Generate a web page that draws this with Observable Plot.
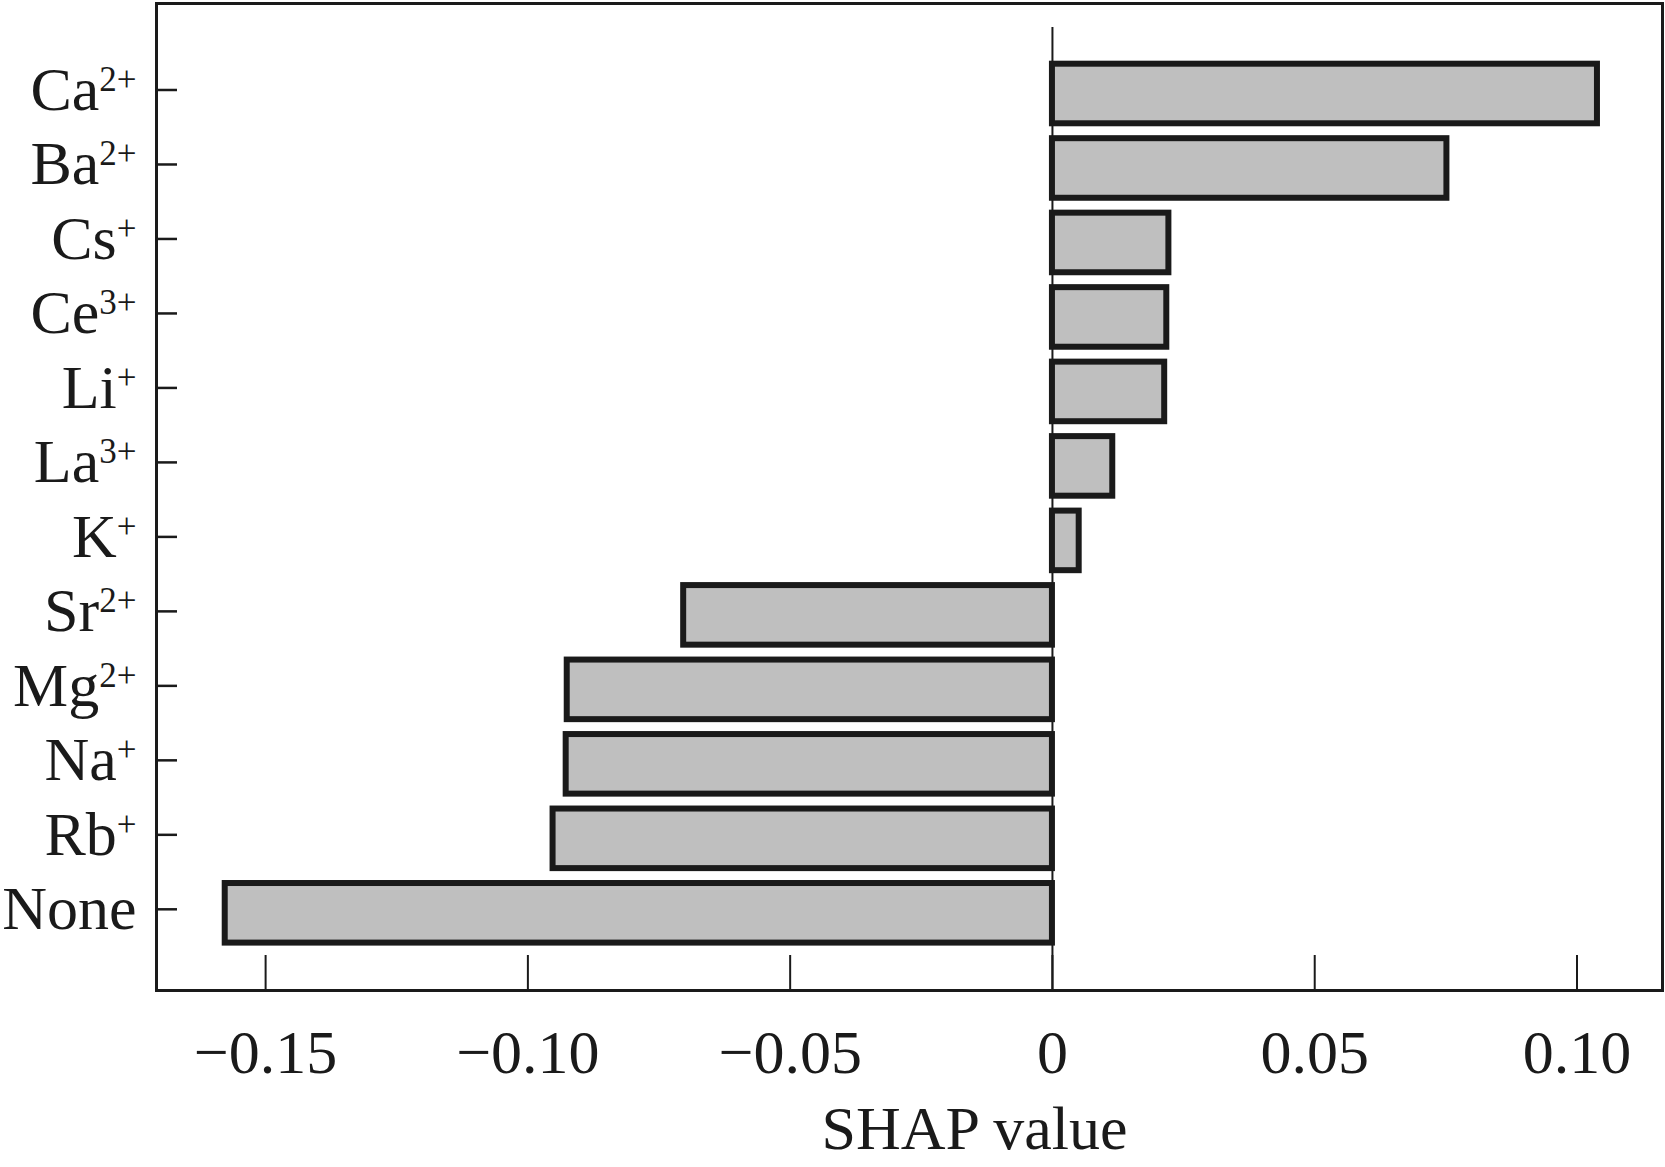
<!DOCTYPE html>
<html>
<head>
<meta charset="utf-8">
<script src="https://cdn.jsdelivr.net/npm/d3@7"></script>
<script src="https://cdn.jsdelivr.net/npm/@observablehq/plot@0.6"></script>
<style>
  html, body { margin: 0; padding: 0; background: #fff; }
  #chart svg { display: block; }
</style>
</head>
<body>
<div id="chart"></div>
<script>
// Data
const ions    = ["Ca", "Ba", "Cs", "Ce", "Li", "La", "K", "Sr", "Mg", "Na", "Rb", "None"];
const charges = ["2+", "2+", "+", "3+", "+", "3+", "+", "2+", "2+", "+", "+", ""];
const shapValues = [0.1039, 0.0752, 0.0222, 0.0218, 0.0214, 0.0115, 0.0051, -0.0703, -0.0925, -0.0927, -0.0952, -0.1577];
const xTicks = [-0.15, -0.10, -0.05, 0, 0.05, 0.10];
const xLabel = "SHAP value";

const labels = ions.map((d, i) => d + charges[i]);
const rows = labels.map((d, i) => ({ion: d, value: shapValues[i]}));

const ink = "#1a1a1a";
const W = 1665, H = 1167;

const chart = Plot.plot({
  width: W,
  height: H,
  marginLeft: 156,
  marginRight: 3,
  marginTop: 3,
  marginBottom: 177,
  style: {fontFamily: "'Liberation Serif', 'Times New Roman', serif", fontSize: "62px", color: ink, background: "#fff"},
  x: {domain: [-0.1708, 0.1163]},
  y: {domain: labels, range: [48.8, 957.5], padding: 0.2, round: false},
  marks: [
    Plot.ruleX([0], {stroke: ink, strokeWidth: 2, insetTop: 24}),
    Plot.barX(rows, {x: "value", y: "ion", fill: "#bfbfbf", stroke: ink, strokeWidth: 6}),
    Plot.frame({stroke: ink, strokeWidth: 3}),
    Plot.axisX({ticks: xTicks, tickSize: -35, tickPadding: 73, strokeWidth: 2,
      tickFormat: d => d === 0 ? "0" : d3.format(".2f")(d), label: null, fontSize: 62}),
    Plot.axisY({tickSize: -21, tickPadding: 41, strokeWidth: 2.5, dy: -4, label: null, fontSize: 62}),
    Plot.text([xLabel], {frameAnchor: "bottom", dx: 65, dy: 158, lineAnchor: "bottom", fontSize: 62, fill: ink})
  ]
});

// Render charges as superscripts in the y tick labels
const svgNS = "http://www.w3.org/2000/svg";
chart.querySelectorAll('g[aria-label="y-axis tick label"] text').forEach(t => {
  const full = t.textContent;
  const i = labels.indexOf(full);
  if (i < 0 || !charges[i]) return;
  t.textContent = ions[i];
  const sup = document.createElementNS(svgNS, "tspan");
  sup.setAttribute("font-size", "35");
  sup.setAttribute("dy", "-19");
  sup.textContent = charges[i];
  t.appendChild(sup);
});

document.getElementById("chart").appendChild(chart);
</script>
</body>
</html>
